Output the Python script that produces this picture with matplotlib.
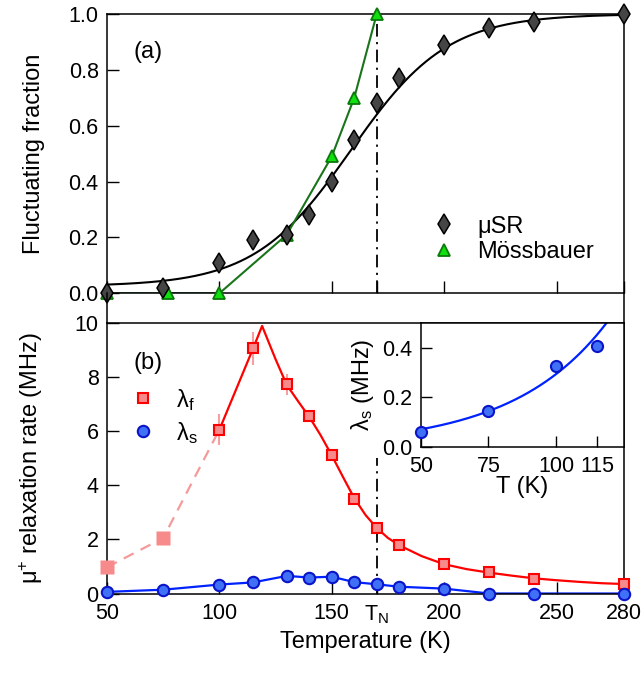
import numpy as np
import matplotlib
matplotlib.use("Agg")
import matplotlib.pyplot as plt
from matplotlib.lines import Line2D

plt.rcParams['font.family'] = ['Liberation Sans', 'DejaVu Sans']
plt.rcParams['mathtext.fontset'] = 'custom'
plt.rcParams['mathtext.rm'] = 'Liberation Sans'
plt.rcParams['mathtext.it'] = 'Liberation Sans:italic'
plt.rcParams['mathtext.bf'] = 'Liberation Sans:bold'

# ---------------- data ----------------
# (a) fluctuating fraction
T_musr = [50, 75, 100, 115, 130, 140, 150, 160, 170, 180, 200, 220, 240, 280]
frac_musr = [0.0, 0.02, 0.11, 0.19, 0.21, 0.28, 0.40, 0.55, 0.68, 0.77, 0.89, 0.95, 0.97, 1.0]

T_moss = [50, 77, 100, 130, 150, 160, 170]
frac_moss = [0.0, 0.0, 0.0, 0.21, 0.49, 0.70, 1.0]

# logistic fit to muSR fraction: baseline, centre (K), width (K)
fit_base = 0.025
fit_T0 = 158.5
fit_w = 21.5

T_N = 170

# (b) relaxation rates
T_lf_low = [50, 75, 100]
lf_low = [0.97, 2.05, 6.05]

T_lf = [100, 115, 130, 140, 150, 160, 170, 180, 200, 220, 240, 280]
lf = [6.05, 9.05, 7.72, 6.57, 5.11, 3.50, 2.42, 1.78, 1.08, 0.78, 0.55, 0.35]

T_lf_err = [100, 115, 130]
lf_err_val = [6.05, 9.05, 7.72]
lf_err = [0.58, 0.62, 0.38]

# curve drawn through lambda_f
T_lf_curve = [100, 115, 119, 125, 130, 135, 140, 145, 150, 155, 160, 165, 170,
              175, 180, 190, 200, 210, 220, 230, 240, 250, 260, 270, 280]
lf_curve = [6.05, 9.05, 9.88, 8.65, 7.70, 7.10, 6.52, 5.85, 5.10, 4.30, 3.52,
            2.90, 2.42, 2.05, 1.78, 1.38, 1.08, 0.90, 0.77, 0.66, 0.56, 0.49,
            0.43, 0.38, 0.35]

T_ls = [50, 75, 100, 115, 130, 140, 150, 160, 170, 180, 200, 220, 240, 280]
ls = [0.06, 0.14, 0.33, 0.41, 0.65, 0.59, 0.62, 0.42, 0.34, 0.25, 0.18, 0.0, 0.0, 0.0]

# inset
T_in = [50, 75, 100, 115]
ls_in = [0.058, 0.144, 0.324, 0.407]
# exponential fit in inset: amplitude at 50 K, growth constant (K)
in_amp = 0.07
in_tau = 34.9

x_ticks = [50, 100, 150, 170, 200, 250, 280]
x_ticklabels = ['50', '100', '150', r'T$_\mathrm{N}$', '200', '250', '280']
y_ticks_a = [0.0, 0.2, 0.4, 0.6, 0.8, 1.0]
y_ticks_b = [0, 2, 4, 6, 8, 10]
in_xticks = [50, 75, 100, 115]
in_yticks = [0.0, 0.2, 0.4]

# ---------------- style ----------------
FS_TICK = 15.5
FS_LAB = 17
LW_SP = 1.1
W, H = 643, 673

fig = plt.figure(figsize=(W / 100, H / 100), dpi=100)

def fx(px):
    return px / W

def fy(py):
    return 1 - py / H

L, R = 107, 624
axA = fig.add_axes([fx(L), fy(293.3), fx(R) - fx(L), (293.3 - 14) / H])
axB = fig.add_axes([fx(L), fy(593.5), fx(R) - fx(L), (593.5 - 322.7) / H])

for ax in (axA, axB):
    for s in ax.spines.values():
        s.set_linewidth(LW_SP)
    ax.tick_params(direction='in', length=8.5, width=1.0, labelsize=FS_TICK,
                   top=False, right=False)
    ax.tick_params(axis='y', pad=6)
    ax.tick_params(axis='x', pad=7)
    ax.set_xlim(50, 280)
    ax.set_xticks(x_ticks)

# continuous side frame through the gap
for xp in (L, R):
    fig.add_artist(Line2D([fx(xp), fx(xp)], [fy(293.3), fy(322.7)],
                          transform=fig.transFigure, color='black', lw=LW_SP))

# ---------------- panel (a) ----------------
axA.set_ylim(0, 1.0)
axA.set_yticks(y_ticks_a)
axA.set_yticklabels(['%.1f' % v for v in y_ticks_a])
axA.tick_params(axis='x', labelbottom=False)

Tfit = np.linspace(50, 280, 400)
ffit = fit_base + (1 - fit_base) / (1 + np.exp(-(Tfit - fit_T0) / fit_w))
axA.plot(Tfit, ffit, color='black', lw=1.5, zorder=2)
axA.plot(T_moss, frac_moss, color='#1a741a', lw=1.5, zorder=2)
axA.plot([T_N, T_N], [0, 1], color='black', lw=1.3,
         linestyle=(0, (7, 3, 1.2, 3)), zorder=1)

axA.plot(T_musr, frac_musr, linestyle='none', marker='d', ms=10.0,
         mfc='#454545', mec='black', mew=1.1, label=r'μSR', zorder=4,
         clip_on=False)
axA.plot(T_moss, frac_moss, linestyle='none', marker='^', ms=8.3,
         mfc='#10e010', mec='#0a7a0a', mew=1.3, label='Mössbauer', zorder=3,
         clip_on=False)

legA = axA.legend(loc='center left', bbox_to_anchor=(0.629, 0.1926),
                  frameon=False, fontsize=FS_LAB, handlelength=1.0,
                  handletextpad=0.9, labelspacing=0.15, borderpad=0,
                  borderaxespad=0)
axA.text(0.052, 0.864, '(a)', transform=axA.transAxes, fontsize=FS_LAB,
         va='center', ha='left')
axA.set_ylabel('Fluctuating fraction', fontsize=FS_LAB)
axA.yaxis.set_label_coords(-0.12, 0.5)

# ---------------- panel (b) ----------------
axB.set_ylim(0, 10)
axB.set_yticks(y_ticks_b)
axB.set_xticklabels(x_ticklabels)

axB.plot(T_lf_low, lf_low, color='#f59a9a', lw=1.6, linestyle=(0, (5, 3.5)),
         zorder=2)
axB.plot(T_lf_curve, lf_curve, color='#ff0000', lw=1.6, zorder=2)
axB.plot(T_ls, ls, color='#0022ff', lw=1.6, zorder=2)
axB.plot([T_N, T_N], [0, 5.0], color='black', lw=1.3,
         linestyle=(0, (7, 3, 1.2, 3)), zorder=1)
axB.errorbar(T_lf_err, lf_err_val, yerr=lf_err, fmt='none',
             ecolor='#f5a0a0', elinewidth=1.5, capsize=0, zorder=3)

axB.plot(T_lf_low[:2], lf_low[:2], linestyle='none', marker='s', ms=9.5,
         mfc='#f78a8a', mec='none', zorder=4, clip_on=False)
axB.plot(T_lf, lf, linestyle='none', marker='s', ms=7.8, mfc='#f78a8a',
         mec='#ff0000', mew=1.5, label=r'λ$_\mathrm{f}$', zorder=5,
         clip_on=False)
axB.plot(T_ls, ls, linestyle='none', marker='o', ms=8.2, mfc='#4070f5',
         mec='#0a14c8', mew=1.5, label=r'λ$_\mathrm{s}$', zorder=6,
         clip_on=False)

legB = axB.legend(loc='center left', bbox_to_anchor=(0.0474, 0.655),
                  frameon=False, fontsize=FS_LAB, handlelength=1.0,
                  handletextpad=0.9, labelspacing=0.3, borderpad=0,
                  borderaxespad=0)
axB.text(0.052, 0.851, '(b)', transform=axB.transAxes, fontsize=FS_LAB,
         va='center', ha='left')
axB.set_ylabel(r'μ$^{+}$ relaxation rate (MHz)', fontsize=FS_LAB)
axB.yaxis.set_label_coords(-0.12, 0.5)
axB.set_xlabel('Temperature (K)', fontsize=FS_LAB)

# ---------------- inset ----------------
axI = fig.add_axes([fx(420.7), fy(446.7), fx(R) - fx(420.7), (446.7 - 322.7) / H])
for s in axI.spines.values():
    s.set_linewidth(LW_SP)
axI.set_xlim(50, 125)
axI.set_ylim(0, 0.5)
axI.set_xticks(in_xticks)
axI.set_yticks(in_yticks)
axI.set_yticklabels(['%.1f' % v for v in in_yticks])
axI.tick_params(direction='in', length=8, width=1.0, labelsize=FS_TICK,
                top=False, right=False)
axI.tick_params(axis='y', pad=6)
axI.tick_params(axis='x', pad=7)

Tin_fit = np.linspace(50, 125, 200)
axI.plot(Tin_fit, in_amp * np.exp((Tin_fit - 50) / in_tau), color='#0022ff',
         lw=1.6, zorder=2)
axI.plot(T_in, ls_in, linestyle='none', marker='o', ms=8.0, mfc='#4070f5',
         mec='#0a14c8', mew=1.5, zorder=3, clip_on=False)
axI.set_ylabel(r'λ$_\mathrm{s}$ (MHz)', fontsize=FS_LAB)
axI.yaxis.set_label_coords(-0.22, 0.5)
axI.set_xlabel('T (K)', fontsize=FS_LAB)
axI.xaxis.set_label_coords(0.5, -0.24)

fig.savefig('out.png', dpi=100)
